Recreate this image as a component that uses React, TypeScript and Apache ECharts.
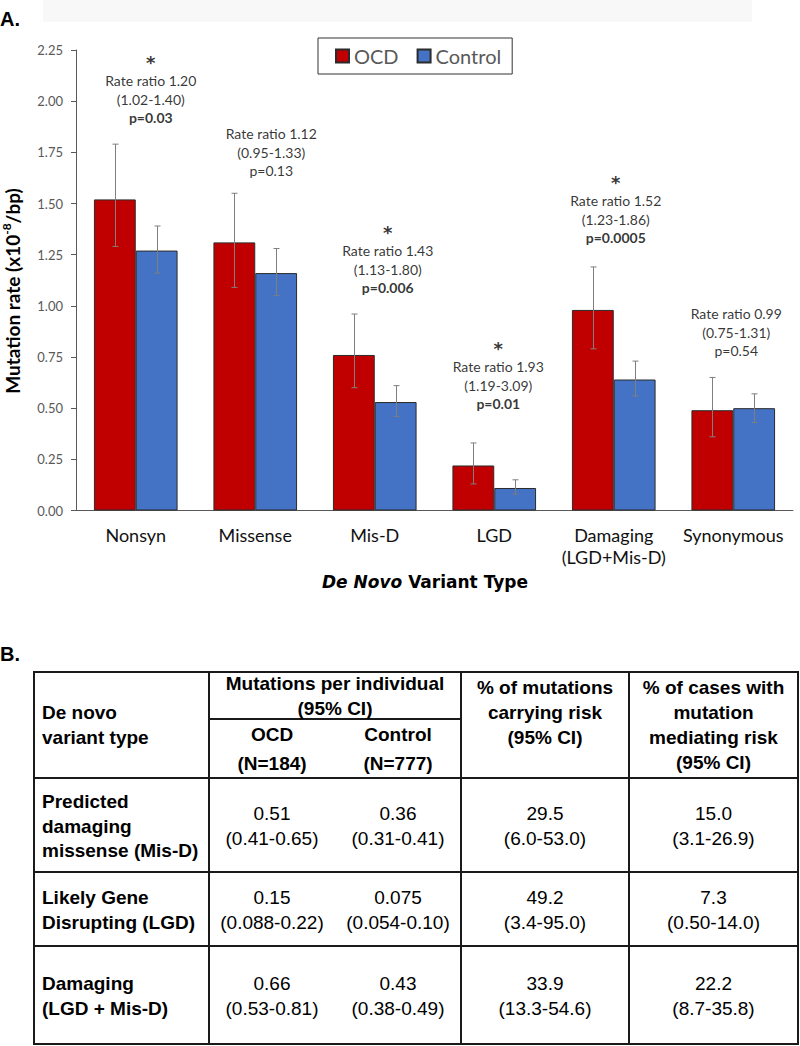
import React, { useEffect, useRef } from 'react';
import * as echarts from 'echarts';

// ---------- Panel A data ----------
const CATEGORIES = ['Nonsyn', 'Missense', 'Mis-D', 'LGD', 'Damaging\n(LGD+Mis-D)', 'Synonymous'];
const SERIES_NAMES = ['OCD', 'Control'];
const OCD_RATE = [1.52, 1.31, 0.76, 0.22, 0.98, 0.49];
const OCD_LOW = [1.29, 1.09, 0.60, 0.13, 0.79, 0.36];
const OCD_HIGH = [1.79, 1.55, 0.96, 0.33, 1.19, 0.65];
const CTRL_RATE = [1.27, 1.16, 0.53, 0.11, 0.64, 0.50];
const CTRL_LOW = [1.16, 1.05, 0.46, 0.08, 0.56, 0.43];
const CTRL_HIGH = [1.39, 1.28, 0.61, 0.15, 0.73, 0.57];
const RATE_RATIO = ['1.20', '1.12', '1.43', '1.93', '1.52', '0.99'];
const RATIO_CI = ['(1.02-1.40)', '(0.95-1.33)', '(1.13-1.80)', '(1.19-3.09)', '(1.23-1.86)', '(0.75-1.31)'];
const P_VALUES = ['p=0.03', 'p=0.13', 'p=0.006', 'p=0.01', 'p=0.0005', 'p=0.54'];
const SIGNIFICANT = [true, false, true, true, true, false];
// value (in y-axis units) where the bottom of each annotation block sits
const ANNOT_ANCHOR = [1.873, 1.614, 1.042, 0.476, 1.287, 0.735];
const Y_MIN = 0;
const Y_MAX = 2.25;
const Y_STEP = 0.25;

// ---------- Panel B data ----------
const ROW_LABELS = ['Predicted\ndamaging\nmissense (Mis-D)', 'Likely Gene\nDisrupting (LGD)', 'Damaging\n(LGD + Mis-D)'];
const OCD_PER_IND = ['0.51', '0.15', '0.66'];
const OCD_PER_IND_CI = ['(0.41-0.65)', '(0.088-0.22)', '(0.53-0.81)'];
const CTRL_PER_IND = ['0.36', '0.075', '0.43'];
const CTRL_PER_IND_CI = ['(0.31-0.41)', '(0.054-0.10)', '(0.38-0.49)'];
const PCT_MUT_RISK = ['29.5', '49.2', '33.9'];
const PCT_MUT_RISK_CI = ['(6.0-53.0)', '(3.4-95.0)', '(13.3-54.6)'];
const PCT_CASES_RISK = ['15.0', '7.3', '22.2'];
const PCT_CASES_RISK_CI = ['(3.1-26.9)', '(0.50-14.0)', '(8.7-35.8)'];
const HEADER_TYPE = 'De novo\nvariant type';
const HEADER_PER_IND = 'Mutations per individual\n(95% CI)';
const HEADER_OCD = 'OCD\n(N=184)';
const HEADER_CTRL = 'Control\n(N=777)';
const HEADER_PCT_MUT = '% of mutations\ncarrying risk\n(95% CI)';
const HEADER_PCT_CASES = '% of cases with\nmutation\nmediating risk\n(95% CI)';

// ---------- layout constants ----------
const ANNOT_DX = [15, 16, 13, 4, 2, 3];
const BAR_FRAC = 0.35;
const OCD_COLOR = '#C00000';
const CTRL_COLOR = '#4472C4';
const ERR_COLOR = '#7f7f7f';
const CHART_FONT = 'Lato, "Open Sans", sans-serif';
const WIDE_FONT = '"DejaVu Sans", Lato, sans-serif';
const TABLE_FONT = '"Liberation Sans", Arial, sans-serif';

const T_LEFT = 34, T_RIGHT = 798, T_TOP = 672, T_BOTTOM = 1044;
const COL_X = [209, 461, 629];
const HEAD_SUB_Y = 719;
const ROW_Y = [778, 872, 946];
const LINE_COLOR = '#1a1a1a';

function errorSeries(name: string, low: number[], high: number[], side: number) {
  return {
    type: 'custom',
    name: name + ' err',
    z: 5,
    silent: true,
    data: low.map((l, i) => [i, l, high[i]]),
    encode: { x: 0, y: [1, 2] },
    renderItem: (params: any, api: any) => {
      const idx = api.value(0);
      const lo = api.coord([idx, api.value(1)]);
      const hi = api.coord([idx, api.value(2)]);
      const band = api.size([1, 0])[0];
      const x = Math.round(lo[0] + side * band * BAR_FRAC / 2) + 0.5;
      const cap = 3;
      const st = { stroke: ERR_COLOR, lineWidth: 1 };
      return {
        type: 'group',
        children: [
          { type: 'line', shape: { x1: x, y1: lo[1], x2: x, y2: hi[1] }, style: st },
          { type: 'line', shape: { x1: x - cap, y1: hi[1], x2: x + cap, y2: hi[1] }, style: st },
          { type: 'line', shape: { x1: x - cap, y1: lo[1], x2: x + cap, y2: lo[1] }, style: st },
        ],
      };
    },
  };
}

function tableGraphics() {
  const g: any[] = [];
  const st = { stroke: LINE_COLOR, lineWidth: 2 };
  g.push({ type: 'rect', shape: { x: T_LEFT, y: T_TOP, width: T_RIGHT - T_LEFT, height: T_BOTTOM - T_TOP }, style: { fill: 'none', stroke: LINE_COLOR, lineWidth: 2 } });
  COL_X.forEach((x) => g.push({ type: 'line', shape: { x1: x, y1: T_TOP, x2: x, y2: T_BOTTOM }, style: st }));
  ROW_Y.forEach((y) => g.push({ type: 'line', shape: { x1: T_LEFT, y1: y, x2: T_RIGHT, y2: y }, style: st }));
  g.push({ type: 'line', shape: { x1: COL_X[0], y1: HEAD_SUB_Y, x2: COL_X[1], y2: HEAD_SUB_Y }, style: st });

  const txt = (text: string, x: number, y: number, bold: boolean, align: string, lh = 24.7) => ({
    type: 'text',
    x,
    y,
    style: {
      text,
      fill: '#000',
      fontFamily: TABLE_FONT,
      fontSize: 19,
      fontWeight: bold ? 'bold' : 'normal',
      align,
      verticalAlign: 'middle',
      lineHeight: lh,
    },
  });
  const midOcd = (COL_X[0] + (COL_X[0] + COL_X[1]) / 2) / 2;
  const midCtrl = ((COL_X[0] + COL_X[1]) / 2 + COL_X[1]) / 2;
  const midPer = (COL_X[0] + COL_X[1]) / 2;
  const mid3 = (COL_X[1] + COL_X[2]) / 2;
  const mid4 = (COL_X[2] + T_RIGHT) / 2;
  const headMid = (T_TOP + ROW_Y[0]) / 2;
  g.push(txt(HEADER_TYPE, T_LEFT + 8, headMid, true, 'left', 25));
  g.push(txt(HEADER_PER_IND, midPer, (T_TOP + HEAD_SUB_Y) / 2, true, 'center', 25));
  g.push(txt(HEADER_OCD, midOcd, (HEAD_SUB_Y + ROW_Y[0]) / 2, true, 'center', 29));
  g.push(txt(HEADER_CTRL, midCtrl, (HEAD_SUB_Y + ROW_Y[0]) / 2, true, 'center', 29));
  g.push(txt(HEADER_PCT_MUT, mid3, headMid - 12.5, true, 'center', 24.7));
  g.push(txt(HEADER_PCT_CASES, mid4, headMid, true, 'center', 24.7));

  const rowBounds = [ROW_Y[0], ROW_Y[1], ROW_Y[2], T_BOTTOM];
  for (let r = 0; r < 3; r++) {
    const cy = (rowBounds[r] + rowBounds[r + 1]) / 2 + 1;
    g.push(txt(ROW_LABELS[r], T_LEFT + 8, cy, true, 'left', 24.7));
    g.push(txt(OCD_PER_IND[r] + '\n' + OCD_PER_IND_CI[r], midOcd, cy, false, 'center'));
    g.push(txt(CTRL_PER_IND[r] + '\n' + CTRL_PER_IND_CI[r], midCtrl, cy, false, 'center'));
    g.push(txt(PCT_MUT_RISK[r] + '\n' + PCT_MUT_RISK_CI[r], mid3, cy, false, 'center'));
    g.push(txt(PCT_CASES_RISK[r] + '\n' + PCT_CASES_RISK_CI[r], mid4, cy, false, 'center'));
  }
  return g;
}

function buildOption() {
  const barStyle = (color: string) => ({ color, borderColor: '#2b2b2b', borderWidth: 1 });
  return {
    animation: false,
    textStyle: { fontFamily: CHART_FONT },
    grid: { left: 76, top: 50, width: 717, height: 460.5, containLabel: false },
    legend: {
      data: SERIES_NAMES,
      left: 318,
      top: 38,
      itemWidth: 13,
      itemHeight: 13,
      itemGap: 18,
      icon: 'rect',
      padding: [8, 11, 8, 17],
      borderColor: '#333',
      borderWidth: 1,
      backgroundColor: '#fff',
      selectedMode: false,
      textStyle: { fontSize: 20, color: '#595959', fontFamily: CHART_FONT },
    },
    xAxis: {
      type: 'category',
      data: CATEGORIES,
      axisLine: { show: true, lineStyle: { color: '#595959', width: 1 } },
      axisTick: { show: false },
      axisLabel: { interval: 0, fontSize: 18, lineHeight: 22, margin: 13, color: '#111', fontFamily: CHART_FONT },
    },
    yAxis: {
      type: 'value',
      min: Y_MIN,
      max: Y_MAX,
      interval: Y_STEP,
      splitLine: { show: false },
      axisLine: { show: true, lineStyle: { color: '#595959', width: 1 } },
      axisTick: { show: true, length: 5, lineStyle: { color: '#595959' } },
      axisLabel: {
        fontSize: 13,
        color: '#595959',
        margin: 13,
        fontFamily: CHART_FONT,
        formatter: (v: number) => v.toFixed(2),
      },
    },
    series: [
      { type: 'bar', name: SERIES_NAMES[0], data: OCD_RATE, barWidth: BAR_FRAC * 100 + '%', barGap: '0%', itemStyle: barStyle(OCD_COLOR), silent: true },
      { type: 'bar', name: SERIES_NAMES[1], data: CTRL_RATE, barWidth: BAR_FRAC * 100 + '%', barGap: '0%', itemStyle: barStyle(CTRL_COLOR), silent: true },
      errorSeries('OCD', OCD_LOW, OCD_HIGH, -1),
      errorSeries('Control', CTRL_LOW, CTRL_HIGH, 1),
      {
        type: 'scatter',
        name: 'annotations',
        symbolSize: 0,
        silent: true,
        z: 6,
        data: ANNOT_ANCHOR.map((y, i) => ({ value: [i, y], label: { offset: [ANNOT_DX[i], 0] } })),
        label: {
          show: true,
          position: 'top',
          distance: 0,
          formatter: (p: any) => {
            const i = p.dataIndex;
            const lines: string[] = [];
            if (SIGNIFICANT[i]) lines.push('{ast|*}');
            lines.push('{t|Rate ratio ' + RATE_RATIO[i] + '}');
            lines.push('{t|' + RATIO_CI[i] + '}');
            lines.push((SIGNIFICANT[i] ? '{tb|' : '{t|') + P_VALUES[i] + '}');
            return lines.join('\n');
          },
          rich: {
            ast: { fontSize: 18, fontWeight: 'bold', lineHeight: 19, fontFamily: WIDE_FONT, color: '#000', align: 'center' },
            t: { fontSize: 14, lineHeight: 18.5, fontFamily: CHART_FONT, color: '#000', align: 'center' },
            tb: { fontSize: 14, lineHeight: 18.5, fontWeight: 'bold', fontFamily: CHART_FONT, color: '#000', align: 'center' },
          },
        },
      },
    ],
    graphic: [
      { type: 'rect', shape: { x: 43, y: 0, width: 709, height: 22 }, style: { fill: '#f8f8f8' }, silent: true },
      { type: 'text', x: 0, y: 19, style: { text: 'A.', fontFamily: TABLE_FONT, fontSize: 20, fontWeight: 'bold', fill: '#000', align: 'left', verticalAlign: 'middle' } },
      {
        type: 'text',
        x: 12,
        y: 291,
        rotation: Math.PI / 2,
        style: {
          text: '{a|Mutation rate (x10}{s|-8}{a|/bp)}',
          align: 'center',
          verticalAlign: 'middle',
          rich: {
            a: { fontSize: 19, fontWeight: 'bold', fontFamily: CHART_FONT, fill: '#000', lineHeight: 24, verticalAlign: 'middle' },
            s: { fontSize: 12, fontWeight: 'bold', fontFamily: CHART_FONT, fill: '#000', lineHeight: 13, verticalAlign: 'top' },
          },
        },
      },
      {
        type: 'text',
        x: 425,
        y: 582,
        style: {
          text: '{i|De Novo}{b| Variant Type}',
          align: 'center',
          verticalAlign: 'middle',
          rich: {
            i: { fontSize: 17, fontWeight: 'bold', fontStyle: 'italic', fontFamily: WIDE_FONT, fill: '#000' },
            b: { fontSize: 17, fontWeight: 'bold', fontFamily: WIDE_FONT, fill: '#000' },
          },
        },
      },
      { type: 'text', x: 0, y: 654, style: { text: 'B.', fontFamily: TABLE_FONT, fontSize: 20, fontWeight: 'bold', fill: '#000', align: 'left', verticalAlign: 'middle' } },
      ...tableGraphics(),
    ],
  };
}

export default function App() {
  const ref = useRef<HTMLDivElement>(null);
  useEffect(() => {
    document.body.style.margin = '0';
    document.body.style.overflow = 'hidden';
    const chart = echarts.init(ref.current as HTMLDivElement, null, { renderer: 'svg' });
    chart.setOption(buildOption() as any);
    return () => chart.dispose();
  }, []);
  return <div ref={ref} style={{ width: 800, height: 1046 }} />;
}
